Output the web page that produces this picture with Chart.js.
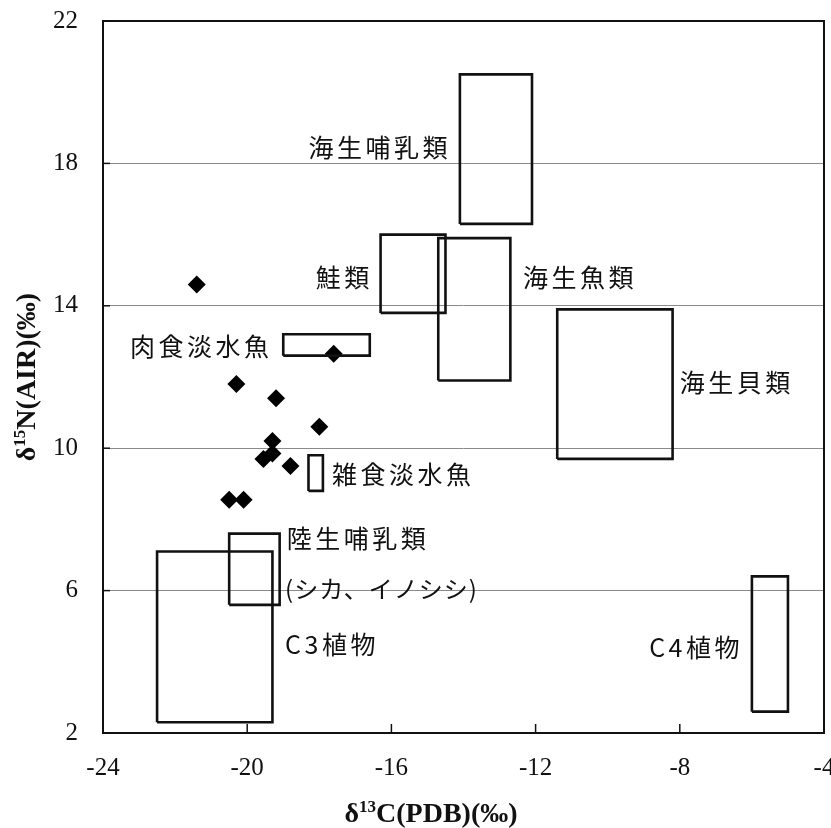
<!DOCTYPE html>
<html>
<head>
<meta charset="utf-8">
<script src="https://cdn.jsdelivr.net/npm/chart.js@4/dist/chart.umd.min.js"></script>
<style>
html,body{margin:0;padding:0;background:#fff;overflow:hidden;}
#wrap{width:860px;height:828px;}
</style>
</head>
<body>
<div id="wrap"><canvas id="c" width="860" height="828"></canvas></div>
<script>
// ---- data ----
const xTicks = [-24, -20, -16, -12, -8, -4];
const yTicks = [2, 6, 10, 14, 18, 22];

const boxNames = ['海生哺乳類','鮭類','海生魚類','肉食淡水魚','海生貝類','雑食淡水魚','陸生哺乳類','C3植物','C4植物'];
const boxXMin = [-14.1, -16.3, -14.7, -19.0, -11.4, -18.3, -20.5, -22.5, -6.0];
const boxXMax = [-12.1, -14.5, -12.7, -16.6,  -8.2, -17.9, -19.1, -19.3, -5.0];
const boxYMin = [ 16.3,  13.8,  11.9,  12.6,   9.7,   8.8,   5.6,   2.3,  2.6];
const boxYMax = [ 20.5,  16.0,  15.9,  13.2,  13.9,   9.8,   7.6,   7.1,  6.4];

const sampleC = [-21.4, -17.6, -20.3, -19.2, -18.0, -19.3, -19.55, -19.3, -18.8, -20.5, -20.1];
const sampleN = [14.6, 12.65, 11.8, 11.4, 10.6, 10.2, 9.7, 9.85, 9.5, 8.55, 8.55];

const labelTexts = ['海生哺乳類','鮭類','海生魚類','肉食淡水魚','海生貝類','雑食淡水魚','陸生哺乳類','(シカ、イノシシ)','C3植物','C4植物'];
const labelC = [-18.3, -18.1, -12.35, -23.25, -8.0, -17.65, -18.9, -18.95, -18.95, -8.85];
const labelN = [18.45, 14.8, 14.8, 12.85, 11.85, 9.25, 7.45, 6.05, 4.5, 4.4];

// ---- build datasets ----
const datasets = [];
boxNames.forEach((name, i) => {
  datasets.push({
    label: name,
    data: [
      {x: boxXMin[i], y: boxYMin[i]},
      {x: boxXMax[i], y: boxYMin[i]},
      {x: boxXMax[i], y: boxYMax[i]},
      {x: boxXMin[i], y: boxYMax[i]},
      {x: boxXMin[i], y: boxYMin[i]}
    ],
    showLine: true,
    fill: false,
    borderColor: '#111',
    borderWidth: 2.6,
    pointRadius: 0,
    tension: 0,
    borderJoinStyle: 'miter'
  });
});
datasets.push({
  label: 'samples',
  data: sampleC.map((c, i) => ({x: c, y: sampleN[i]})),
  showLine: false,
  pointStyle: 'rectRot',
  pointRadius: 9,
  backgroundColor: '#000',
  borderColor: '#000',
  borderWidth: 0
});

const frame = {
  id: 'frame',
  afterDatasetsDraw(chart) {
    const ctx = chart.ctx, a = chart.chartArea;
    const xs = chart.scales.x, ys = chart.scales.y;
    ctx.save();
    // labels
    ctx.fillStyle = '#111';
    ctx.textAlign = 'left';
    ctx.textBaseline = 'middle';
    labelTexts.forEach((t, i) => {
      const kana = /[\u30A0-\u30FF]/.test(t);
      ctx.font = (kana ? '24px' : '25px') + ' "Noto Sans CJK JP"';
      try { ctx.letterSpacing = kana ? '1px' : '3.5px'; } catch(e) {}
      ctx.fillText(t, xs.getPixelForValue(labelC[i]), ys.getPixelForValue(labelN[i]));
    });
    try { ctx.letterSpacing = '0px'; } catch(e) {}
    // frame
    ctx.strokeStyle = '#111';
    ctx.lineWidth = 2;
    ctx.strokeRect(a.left, a.top, a.right - a.left, a.bottom - a.top);
    // inside tick marks
    ctx.lineWidth = 1.5;
    xTicks.forEach(v => {
      const px = xs.getPixelForValue(v);
      ctx.beginPath(); ctx.moveTo(px, a.bottom); ctx.lineTo(px, a.bottom - 9); ctx.stroke();
    });
    yTicks.forEach(v => {
      const py = ys.getPixelForValue(v);
      ctx.beginPath(); ctx.moveTo(a.left, py); ctx.lineTo(a.left + 7, py); ctx.stroke();
    });
    // axis titles
    function title(parts, cx, cy, rot) {
      ctx.save();
      ctx.translate(cx, cy);
      if (rot) ctx.rotate(-Math.PI / 2);
      ctx.textAlign = 'left';
      ctx.textBaseline = 'alphabetic';
      let w = 0;
      parts.forEach(p => { ctx.font = p.f; w += ctx.measureText(p.t).width; });
      let x = -w / 2;
      parts.forEach(p => {
        ctx.font = p.f;
        ctx.fillText(p.t, x, 10 + (p.dy || 0));
        x += ctx.measureText(p.t).width;
      });
      ctx.restore();
    }
    ctx.fillStyle = '#111';
    const big = 'bold 28px "Liberation Serif"';
    const sm = 'bold 17px "Liberation Serif"';
    title([{t:'δ', f:big}, {t:'13', f:sm, dy:-10}, {t:'C(PDB)(‰)', f:big}], 431, 812, false);
    title([{t:'δ', f:big}, {t:'15', f:sm, dy:-10}, {t:'N(AIR)(‰)', f:big}], 25, 377, true);
    ctx.restore();
  }
};

new Chart(document.getElementById('c'), {
  type: 'scatter',
  data: { datasets },
  options: {
    responsive: false,
    animation: false,
    layout: { padding: { left: 0, top: 21, right: 36, bottom: 0 } },
    plugins: { legend: { display: false }, tooltip: { enabled: false } },
    scales: {
      x: {
        type: 'linear', min: -24, max: -4,
        afterBuildTicks: s => { s.ticks = xTicks.map(v => ({value: v})); },
        afterFit: s => { s.height = 95; },
        grid: { display: false, drawTicks: false },
        border: { display: false },
        ticks: { color: '#111', padding: 20, maxRotation: 0, font: { family: '"Liberation Serif"', size: 25 } }
      },
      y: {
        type: 'linear', min: 2, max: 22,
        afterBuildTicks: s => { s.ticks = yTicks.map(v => ({value: v})); },
        afterFit: s => { s.width = 103; },
        grid: { color: '#8a8a8a', lineWidth: 1, drawTicks: true, tickLength: 25, tickColor: 'rgba(0,0,0,0)' },
        border: { display: false },
        ticks: { color: '#111', padding: 0, font: { family: '"Liberation Serif"', size: 25 } }
      }
    }
  },
  plugins: [frame]
});
</script>
</body>
</html>
